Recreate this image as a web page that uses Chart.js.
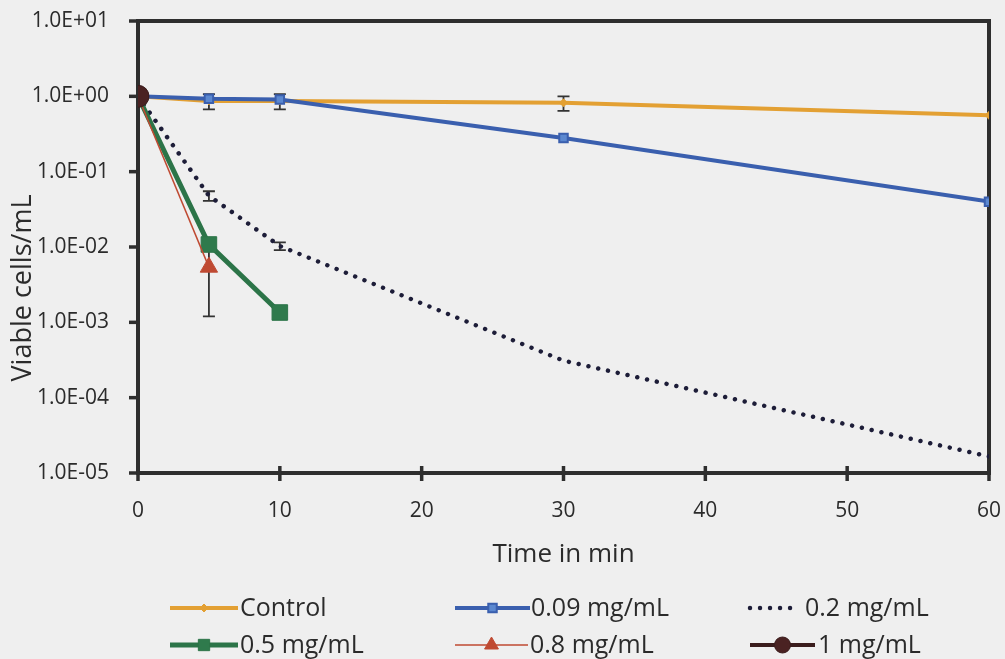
<!DOCTYPE html>
<html>
<head>
<meta charset="utf-8">
<script src="https://cdn.jsdelivr.net/npm/chart.js@4/dist/chart.umd.min.js"></script>
<style>
  html, body { margin: 0; padding: 0; background: #efefef; }
  #wrap { width: 1005px; height: 659px; }
</style>
</head>
<body>
<div id="wrap"><canvas id="c" width="1005" height="659"></canvas></div>
<script>
// ---- data ----
const seriesNames = ["Control", "0.09 mg/mL", "0.2 mg/mL", "0.5 mg/mL", "0.8 mg/mL", "1 mg/mL"];

const controlTime = [0, 5, 10, 30, 60];
const controlValues = [1.0, 0.87, 0.87, 0.82, 0.56];
const controlErr = [0, 0.2, 0.2, 0.18, 0];

const t009Time = [0, 5, 10, 30, 60];
const t009Values = [1.0, 0.93, 0.91, 0.28, 0.04];

const t02Time = [0, 5, 10, 30, 60];
const t02Values = [1.0, 0.048, 0.0103, 0.00031, 0.0000166];
const t02Err = [0, 0.007, 0.0012, 0, 0];

const t05Time = [0, 5, 10];
const t05Values = [1.0, 0.0108, 0.00135];

const t08Time = [0, 5];
const t08Values = [1.0, 0.0054];
const t08Err = [0, 0.0042];

const t1Time = [0];
const t1Values = [1.0];

const xTickValues = [0, 10, 20, 30, 40, 50, 60];
const yTickValues = [1e-5, 1e-4, 1e-3, 1e-2, 1e-1, 1, 10];
const yTickLabels = ["1.0E-05", "1.0E-04", "1.0E-03", "1.0E-02", "1.0E-01", "1.0E+00", "1.0E+01"];

const xTitle = "Time in min";
const yTitle = "Viable cells/mL";

function pts(t, v) { return t.map((x, i) => ({ x: x, y: v[i] })); }

const FONT = "'Open Sans', Lato, sans-serif";
const TXT = "#2b2b2b";

const datasets = [
  { label: seriesNames[0], data: pts(controlTime, controlValues), err: controlErr,
    borderColor: "#e3a033", backgroundColor: "#e3a033", borderWidth: 4,
    pointStyle: "rectRot", pointRadius: 4, pointBorderWidth: 1, order: 4 },
  { label: seriesNames[1], data: pts(t009Time, t009Values),
    borderColor: "#3a5fae", backgroundColor: "#5b88d0", borderWidth: 4,
    pointStyle: "rect", pointRadius: 6, pointBorderWidth: 2, order: 3 },
  { label: seriesNames[2], data: pts(t02Time, t02Values), err: t02Err,
    borderColor: "#1d1d38", backgroundColor: "#1d1d38", borderWidth: 4.5,
    borderDash: [0.01, 10], borderCapStyle: "round",
    pointRadius: 0, order: 5 },
  { label: seriesNames[3], data: pts(t05Time, t05Values),
    borderColor: "#2c7448", backgroundColor: "#2f7a4c", borderWidth: 5,
    pointStyle: "rect", pointRadius: 11, pointBorderWidth: 1, order: 2 },
  { label: seriesNames[4], data: pts(t08Time, t08Values), err: t08Err,
    borderColor: "#bf4a32", backgroundColor: "#bf4a32", borderWidth: 1.5,
    pointStyle: "triangle", pointRadius: 10, pointBorderWidth: 1, order: 1 },
  { label: seriesNames[5], data: pts(t1Time, t1Values),
    borderColor: "#3a1c1c", backgroundColor: "#4a2222", borderWidth: 4,
    pointStyle: "circle", pointRadius: 11, pointBorderWidth: 1, order: 0 }
];

const framePlugin = {
  id: "frame",
  beforeDatasetsDraw(chart) {
    const { ctx, chartArea: a, scales } = chart;
    ctx.save();
    ctx.strokeStyle = "#2e2e2e";
    ctx.lineWidth = 4;
    ctx.strokeRect(a.left, a.top, a.right - a.left, a.bottom - a.top);
    ctx.lineWidth = 3.5;
    yTickValues.forEach(v => {
      const y = scales.y.getPixelForValue(v);
      ctx.beginPath(); ctx.moveTo(a.left - 9, y); ctx.lineTo(a.left, y); ctx.stroke();
    });
    xTickValues.forEach(v => {
      const x = scales.x.getPixelForValue(v);
      ctx.beginPath(); ctx.moveTo(x, a.bottom - 7); ctx.lineTo(x, a.bottom + 8); ctx.stroke();
    });
    // error bars (under the markers)
    ctx.strokeStyle = "#333";
    ctx.lineWidth = 1.8;
    chart.data.datasets.forEach(ds => {
      if (!ds.err) return;
      ds.data.forEach((p, i) => {
        const e = ds.err[i];
        if (!e) return;
        const x = scales.x.getPixelForValue(p.x);
        const y1 = scales.y.getPixelForValue(p.y + e);
        const y2 = scales.y.getPixelForValue(Math.max(p.y - e, 1e-9));
        ctx.beginPath();
        ctx.moveTo(x, y1); ctx.lineTo(x, y2);
        ctx.moveTo(x - 6, y1); ctx.lineTo(x + 6, y1);
        ctx.moveTo(x - 6, y2); ctx.lineTo(x + 6, y2);
        ctx.stroke();
      });
    });
    ctx.restore();
  }
};

const legendPlugin = {
  id: "customLegend",
  afterDraw(chart) {
    const { ctx } = chart;
    // y-axis title
    ctx.save();
    ctx.translate(23, 288);
    ctx.rotate(-Math.PI / 2);
    ctx.fillStyle = TXT;
    ctx.font = "27px " + FONT;
    ctx.textAlign = "center";
    ctx.textBaseline = "middle";
    ctx.fillText(yTitle, 0, 0);
    ctx.restore();

    const slots = [
      { x1: 170, x2: 238, tx: 240, y: 608 },
      { x1: 455, x2: 530, tx: 531, y: 608 },
      { x1: 750, x2: 797, tx: 805, y: 608 },
      { x1: 170, x2: 238, tx: 240, y: 645 },
      { x1: 455, x2: 528, tx: 530, y: 645 },
      { x1: 750, x2: 815, tx: 818, y: 645 }
    ];
    chart.data.datasets.forEach((ds, i) => {
      const s = slots[i];
      ctx.save();
      ctx.strokeStyle = ds.borderColor;
      ctx.lineWidth = ds.borderWidth;
      ctx.lineCap = ds.borderCapStyle || "butt";
      ctx.setLineDash(ds.borderDash || []);
      ctx.beginPath(); ctx.moveTo(s.x1, s.y); ctx.lineTo(s.x2, s.y); ctx.stroke();
      ctx.setLineDash([]);
      if (ds.pointRadius) {
        ctx.fillStyle = ds.backgroundColor;
        ctx.strokeStyle = ds.borderColor;
        ctx.lineWidth = ds.pointBorderWidth || 1;
        const r = Math.min(ds.pointRadius, 8);
        Chart.helpers.drawPoint(ctx, { pointStyle: ds.pointStyle, radius: r, borderWidth: ctx.lineWidth, rotation: 0 },
          (s.x1 + s.x2) / 2, s.y);
      }
      ctx.fillStyle = TXT;
      ctx.font = "25px " + FONT;
      ctx.textBaseline = "middle";
      ctx.textAlign = "left";
      ctx.fillText(ds.label, s.tx, s.y + 1);
      ctx.restore();
    });
  }
};

new Chart(document.getElementById("c"), {
  type: "line",
  data: { datasets: datasets },
  options: {
    responsive: false,
    animation: false,
    layout: { padding: { top: 21, right: 16, left: 0, bottom: 89 } },
    plugins: { legend: { display: false }, tooltip: { enabled: false } },
    elements: { line: { tension: 0 } },
    scales: {
      x: {
        type: "linear", min: 0, max: 60,
        grid: { display: false }, border: { display: false },
        afterBuildTicks: s => { s.ticks = xTickValues.map(v => ({ value: v })); },
        afterFit: s => { s.height = 97; s.paddingLeft = 0; s.paddingRight = 0; },
        ticks: { color: TXT, font: { family: FONT, size: 21 }, padding: 17, maxRotation: 0 },
        title: { display: true, text: xTitle, color: TXT, font: { family: FONT, size: 26 }, padding: { top: 0, bottom: 0 } }
      },
      y: {
        type: "logarithmic", min: 1e-5, max: 10,
        grid: { display: false }, border: { display: false },
        afterBuildTicks: s => { s.ticks = yTickValues.map(v => ({ value: v })); },
        afterFit: s => { s.width = 138; s.paddingTop = 0; s.paddingBottom = 0; },
        ticks: { color: TXT, font: { family: FONT, size: 21 }, padding: 21,
          callback: (v) => { const i = yTickValues.findIndex(t => Math.abs(Math.log10(t) - Math.log10(v)) < 1e-6); return i >= 0 ? yTickLabels[i] : ""; } },
        title: { display: false, text: yTitle }
      }
    }
  },
  plugins: [framePlugin, legendPlugin]
});
</script>
</body>
</html>
